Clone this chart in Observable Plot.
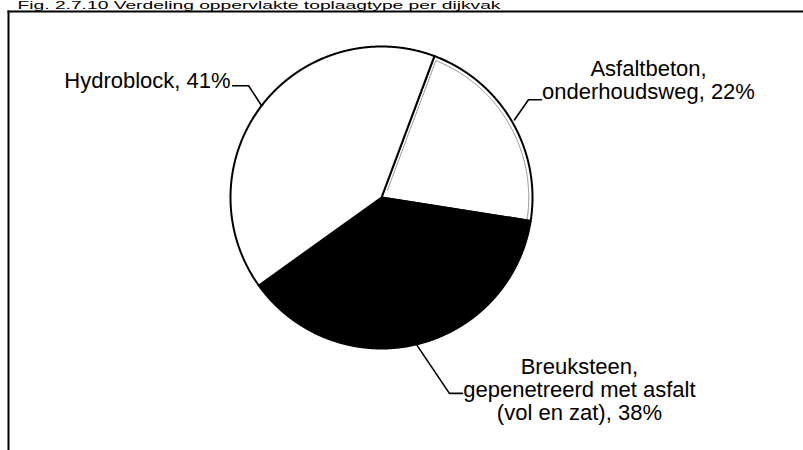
<!DOCTYPE html>
<html>
<head>
<meta charset="utf-8">
<script src="https://cdn.jsdelivr.net/npm/d3@7"></script>
<script src="https://cdn.jsdelivr.net/npm/@observablehq/plot@0.6"></script>
<style>
  html, body { margin: 0; padding: 0; background: white; }
  #chart svg { display: block; }
</style>
</head>
<body>
<div id="chart"></div>
<script>
// ---- data ----
const categories = ["Asfaltbeton, onderhoudsweg", "Breuksteen, gepenetreerd met asfalt (vol en zat)", "Hydroblock"];
const shares = [22, 38, 41];
const labelTexts = ["Asfaltbeton,\nonderhoudsweg, 22%", "Breuksteen,\ngepenetreerd met asfalt\n(vol en zat), 38%", "Hydroblock, 41%"];
const titleText = "Fig. 2.7.10 Verdeling oppervlakte toplaagtype per dijkvak";

// ---- layout ----
const W = 803, H = 450;
const PX = 151;            // pixels per unit radius
const CX = 381, CY = 197;  // pie centre in pixels
const FL = 8, FT = 11;     // frame left / top
const deg = Math.PI / 180;
const fills = ["white", "black", "white"];

const arcs = d3.pie().sort(null).value(d => d)
  .startAngle(20.5 * deg).endAngle(380.5 * deg)(shares);

function slicePoints(a0, a1, r) {
  const pts = [{x: 0, y: 0}];
  const n = Math.ceil((a1 - a0) / 0.004);
  for (let i = 0; i <= n; i++) {
    const a = a0 + (a1 - a0) * i / n;
    pts.push({x: r * Math.sin(a), y: r * Math.cos(a)});
  }
  pts.push({x: 0, y: 0});
  return pts;
}

// leader / label layout (pixels): elbow offset, horizontal run, text offset from end
const leaderLayout = [
  {ex: 14, ey: -20, h: 13, tx: 107, ty: -19.5, anchor: "middle", r: 1.02},
  {ex: 33, ey: 49, h: 13, tx: 117, ty: -4, anchor: "middle", r: 1.0},
  {ex: -13, ey: -20, h: -16, tx: -2, ty: -5, anchor: "end", r: 1.0}
];

const leaders = [];
const labels = [];
arcs.forEach((a, i) => {
  const L = leaderLayout[i];
  const m = (a.startAngle + a.endAngle) / 2;
  const p = {x: L.r * Math.sin(m), y: L.r * Math.cos(m)};
  const e = {x: p.x + L.ex / PX, y: p.y - L.ey / PX};
  const f = {x: e.x + L.h / PX, y: e.y};
  leaders.push([p, e, f]);
  labels.push({x: f.x + L.tx / PX, y: f.y - L.ty / PX, text: labelTexts[i], anchor: L.anchor});
});

// inset grey edge on the Asfaltbeton slice
const a0 = arcs[0].startAngle, a1 = arcs[0].endAngle;
const d = 3 / PX, ri = 0.975;
const inset = [];
for (let t = 0.06; t <= ri; t += 0.01) {
  inset.push({x: t * Math.sin(a0) + d * Math.cos(a0), y: t * Math.cos(a0) - d * Math.sin(a0)});
}
const as = a0 + Math.asin(d / ri);
for (let i = 0; i <= 200; i++) {
  const a = as + (a1 - 0.01 - as) * i / 200;
  inset.push({x: ri * Math.sin(a), y: ri * Math.cos(a)});
}

const font = "'Liberation Sans', Arial, Helvetica, sans-serif";

const marks = [];
arcs.forEach((a, i) => {
  marks.push(Plot.line(slicePoints(a.startAngle, a.endAngle, 1), {
    x: "x", y: "y", fill: fills[i], stroke: "black", strokeWidth: 2, strokeLinejoin: "round", curve: "linear"
  }));
});
marks.push(Plot.line(inset, {x: "x", y: "y", stroke: "#8a8a8a", strokeWidth: 1, strokeDasharray: "2,1"}));
leaders.forEach(l => marks.push(Plot.line(l, {x: "x", y: "y", stroke: "black", strokeWidth: 1.6})));
labels.forEach(l => marks.push(Plot.text([l], {
  x: "x", y: "y", text: "text", textAnchor: l.anchor, lineAnchor: "middle",
  lineHeight: 1.06, fontSize: 22, fill: "black", fontFamily: font
})));
marks.push(Plot.frame({anchor: "top", stroke: "black", strokeWidth: 2}));
marks.push(Plot.frame({anchor: "left", stroke: "black", strokeWidth: 2}));
marks.push(Plot.text([titleText], {
  frameAnchor: "top-left", text: d => d, textAnchor: "start", lineAnchor: "middle",
  dx: 9, dy: -5.7, fontSize: 11.5, fill: "black", fontFamily: font
}));

const chart = Plot.plot({
  width: W, height: H,
  marginLeft: FL, marginTop: FT, marginRight: 0, marginBottom: 0,
  x: {domain: [(FL - CX) / PX, (W - CX) / PX], axis: null},
  y: {domain: [(CY - H) / PX, (CY - FT) / PX], axis: null},
  style: {fontFamily: font, background: "white", overflow: "hidden"},
  marks
});
// widen the title to the span it covers in the reference
d3.select(chart).selectAll("text").filter(function() { return this.textContent === titleText; })
  .attr("textLength", 483).attr("lengthAdjust", "spacingAndGlyphs");
document.getElementById("chart").appendChild(chart);
</script>
</body>
</html>
